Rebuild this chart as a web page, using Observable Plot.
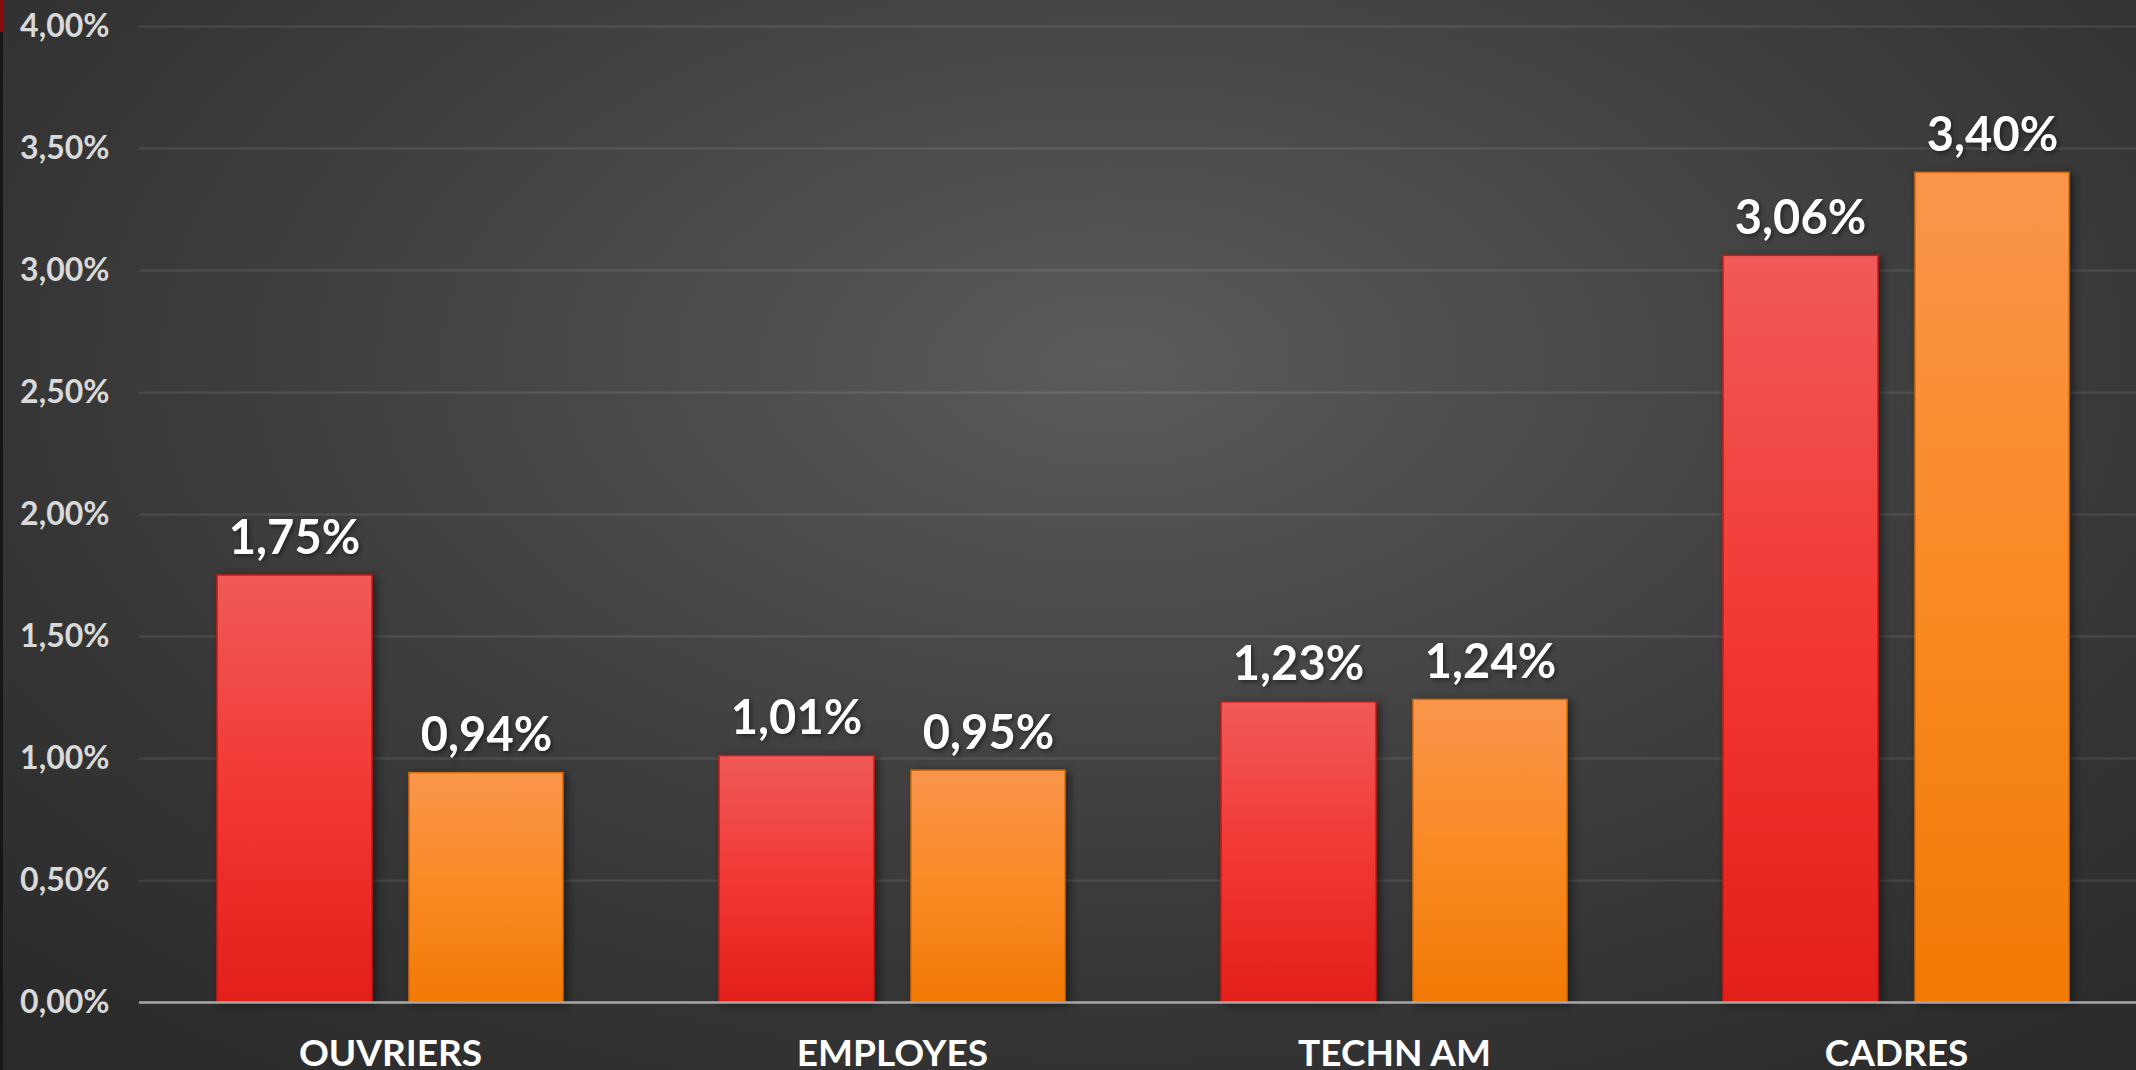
<!DOCTYPE html>
<html>
<head>
<meta charset="utf-8">
<script src="https://cdn.jsdelivr.net/npm/d3@7"></script>
<script src="https://cdn.jsdelivr.net/npm/@observablehq/plot@0.6"></script>
<style>
  html, body { margin: 0; padding: 0; }
  body {
    width: 2136px; height: 1070px; overflow: hidden; position: relative;
    background: radial-gradient(ellipse 75% 85% at 52% 34%, #5b5b5b 0%, #474747 35%, #353535 70%, #2a2a2a 100%);
    font-family: "Century Gothic", Lato, "Open Sans", sans-serif;
  }
  #edge { position: absolute; left: 0; top: 0; width: 3px; height: 1070px; background: #161616; }
  #edge::before { content: ""; position: absolute; left: 0; top: 0; width: 3px; height: 32px; background: #8b0e0e; }
  #chart svg { display: block; background: transparent; overflow: visible; }
  #chart g[aria-label="bar"] { filter: drop-shadow(4px 2px 4px rgba(0,0,0,0.45)); }
  #chart g.vlabel { filter: drop-shadow(2px 2px 2px rgba(0,0,0,0.45)); }
</style>
</head>
<body>
<div id="edge"></div>
<div id="chart"></div>
<script>
// ---- data ----
const categories = ["OUVRIERS", "EMPLOYES", "TECHN AM", "CADRES"];
const series = ["2018", "2019"];
const values2018 = [1.75, 1.01, 1.23, 3.06];
const values2019 = [0.94, 0.95, 1.24, 3.40];
const yTicks = [0, 0.5, 1, 1.5, 2, 2.5, 3, 3.5, 4];

const rowsA = categories.map((c, i) => ({category: c, series: series[0], value: values2018[i]}));
const rowsB = categories.map((c, i) => ({category: c, series: series[1], value: values2019[i]}));

const fmt = d => d.toFixed(2).replace(".", ",") + "%";

// gradient definitions
function defs() {
  const ns = "http://www.w3.org/2000/svg";
  const d = document.createElementNS(ns, "defs");
  d.innerHTML = `
    <linearGradient id="gRed" x1="0" y1="0" x2="0" y2="1">
      <stop offset="0" stop-color="#f05a58"/>
      <stop offset="0.5" stop-color="#f23834"/>
      <stop offset="1" stop-color="#e31f1a"/>
    </linearGradient>
    <linearGradient id="gOrange" x1="0" y1="0" x2="0" y2="1">
      <stop offset="0" stop-color="#fa954c"/>
      <stop offset="0.5" stop-color="#f98a24"/>
      <stop offset="1" stop-color="#f27a05"/>
    </linearGradient>`;
  return d;
}

const band = 502;
const chart = Plot.plot({
  width: 2136,
  height: 1070,
  marginLeft: 139,
  marginRight: 0,
  marginTop: 26,
  marginBottom: 68,
  style: {background: "transparent", fontFamily: "'Century Gothic', Lato, sans-serif", overflow: "visible"},
  x: {domain: categories, range: [139, 139 + band * 4], padding: 0, label: null},
  y: {domain: [0, 4], label: null},
  marks: [
    defs,
    Plot.ruleY(yTicks.filter(d => d > 0), {stroke: "#ffffff", strokeOpacity: 0.1, strokeWidth: 2}),
    Plot.barY(rowsA, {x: "category", y: "value", fill: "url(#gRed)", stroke: "#c91a16", strokeWidth: 1.5, insetLeft: 78, insetRight: band - 233}),
    Plot.barY(rowsB, {x: "category", y: "value", fill: "url(#gOrange)", stroke: "#d86c08", strokeWidth: 1.5, insetLeft: 270, insetRight: band - 424}),
    Plot.ruleY([0], {stroke: "#a8a8a8", strokeWidth: 2.5}),
    Plot.text(rowsA, {x: "category", y: "value", text: d => fmt(d.value), dx: -96, dy: -22, lineAnchor: "bottom", fill: "#ffffff", fontSize: 47, fontWeight: "bold", className: "vlabel"}),
    Plot.text(rowsB, {x: "category", y: "value", text: d => fmt(d.value), dx: 96, dy: -22, lineAnchor: "bottom", fill: "#ffffff", fontSize: 47, fontWeight: "bold", className: "vlabel"}),
    Plot.axisY({ticks: yTicks, tickFormat: fmt, tickSize: 0, tickPadding: 30, fontSize: 32, fontWeight: "bold", fill: "#d9d9d9"}),
    Plot.axisX({tickSize: 0, tickPadding: 37, fontSize: 37, fontWeight: "bold", fill: "#ffffff"})
  ]
});
document.getElementById("chart").appendChild(chart);
</script>
</body>
</html>
